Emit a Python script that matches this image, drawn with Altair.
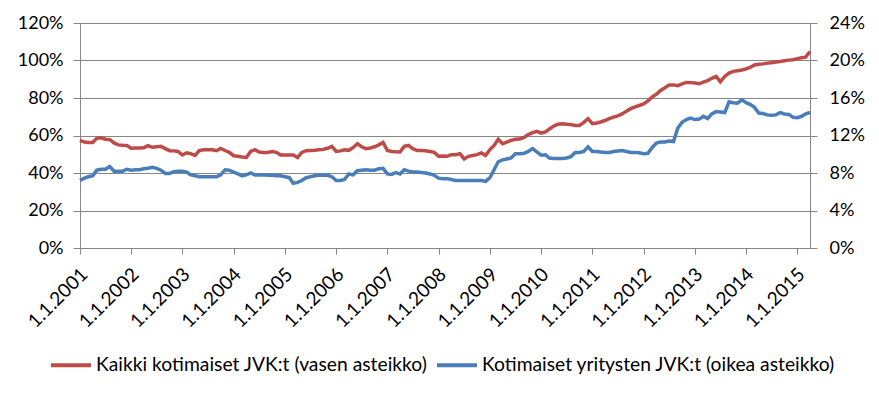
import altair as alt
import pandas as pd

# Monthly observations, 1.1.2001 – 1.4.2015
dates = pd.date_range(start="2001-01-01", periods=172, freq="MS").strftime("%Y-%m-%d").tolist()

# Kaikki kotimaiset JVK:t (vasen asteikko), %
red = [
    57.4, 56.5, 56.3, 56.3, 58.5, 58.8, 58.0, 57.8, 56.0, 55.0, 54.8, 54.7,   # 2001
    53.2, 53.3, 53.3, 53.5, 54.6, 53.7, 54.0, 54.2, 53.0, 51.9, 51.8, 51.5,   # 2002
    49.6, 50.8, 50.3, 49.4, 52.0, 52.4, 52.4, 52.4, 51.9, 53.1, 52.0, 51.0,   # 2003
    49.2, 48.9, 48.5, 48.3, 51.5, 52.4, 51.2, 51.0, 51.0, 51.5, 51.0, 49.6,   # 2004
    49.6, 49.6, 49.6, 48.3, 51.0, 51.9, 52.0, 52.1, 52.4, 52.6, 53.2, 54.2,   # 2005
    51.5, 51.8, 52.4, 52.1, 53.5, 55.6, 54.0, 53.0, 53.3, 54.0, 55.0, 56.3,   # 2006
    52.0, 51.5, 51.3, 51.2, 54.2, 54.7, 53.0, 52.0, 52.0, 51.9, 51.5, 51.0,   # 2007
    48.9, 49.0, 48.9, 49.8, 49.8, 50.3, 47.5, 48.9, 49.3, 49.8, 50.7, 49.4,   # 2008
    52.5, 54.8, 58.0, 55.6, 56.5, 57.4, 58.0, 58.1, 59.0, 60.5, 61.5, 62.2,   # 2009
    61.3, 61.9, 63.5, 65.0, 66.0, 66.3, 66.0, 65.8, 65.4, 65.4, 67.0, 69.0,   # 2010
    66.3, 66.7, 67.2, 68.0, 69.0, 69.8, 70.5, 71.5, 73.0, 74.3, 75.3, 76.0,   # 2011
    76.8, 78.5, 80.5, 82.0, 84.0, 85.5, 87.0, 87.0, 86.6, 87.5, 88.3, 88.2,   # 2012
    88.0, 87.6, 88.5, 89.3, 90.5, 91.5, 88.7, 91.5, 93.3, 94.2, 94.5, 94.9,   # 2013
    95.5, 96.4, 97.6, 98.0, 98.2, 98.6, 98.8, 99.2, 99.5, 99.9, 100.2, 100.4, # 2014
    101.0, 101.5, 101.8, 104.7,                                               # 2015
]

# Kotimaiset yritysten JVK:t (oikea asteikko), %
blue = [
    7.2, 7.45, 7.6, 7.7, 8.3, 8.4, 8.4, 8.7, 8.2, 8.2, 8.2, 8.4,              # 2001
    8.3, 8.35, 8.35, 8.45, 8.5, 8.6, 8.5, 8.3, 7.95, 7.95, 8.15, 8.2,         # 2002
    8.2, 8.1, 7.8, 7.7, 7.6, 7.6, 7.6, 7.6, 7.6, 7.8, 8.35, 8.3,              # 2003
    8.1, 7.9, 7.7, 7.8, 8.0, 7.8, 7.8, 7.8, 7.75, 7.75, 7.7, 7.7,             # 2004
    7.6, 7.5, 6.9, 7.0, 7.2, 7.5, 7.6, 7.7, 7.75, 7.75, 7.75, 7.6,            # 2005
    7.2, 7.2, 7.3, 7.9, 7.8, 8.25, 8.3, 8.35, 8.3, 8.3, 8.45, 8.5,            # 2006
    7.9, 7.85, 8.05, 7.9, 8.35, 8.2, 8.1, 8.1, 8.05, 8.0, 7.9, 7.75,          # 2007
    7.45, 7.4, 7.4, 7.3, 7.2, 7.2, 7.2, 7.2, 7.2, 7.2, 7.2, 7.1,              # 2008
    7.5, 8.4, 9.2, 9.4, 9.5, 9.6, 10.05, 10.05, 10.1, 10.3, 10.6, 10.25,      # 2009
    9.9, 9.95, 9.6, 9.55, 9.55, 9.55, 9.6, 9.75, 10.2, 10.2, 10.3, 10.8,      # 2010
    10.3, 10.3, 10.25, 10.2, 10.2, 10.3, 10.35, 10.4, 10.3, 10.2, 10.2, 10.15,  # 2011
    10.05, 10.1, 10.7, 11.2, 11.3, 11.3, 11.4, 11.35, 12.8, 13.4, 13.7, 13.85,  # 2012
    13.7, 13.75, 14.05, 13.8, 14.3, 14.55, 14.5, 14.45, 15.6, 15.5, 15.45, 15.8,  # 2013
    15.5, 15.3, 15.0, 14.4, 14.35, 14.2, 14.15, 14.2, 14.45, 14.3, 14.25, 13.95,  # 2014
    13.9, 14.05, 14.3, 14.45,                                                  # 2015
]

s_red = "Kaikki kotimaiset JVK:t  (vasen asteikko)"
s_blue = "Kotimaiset yritysten JVK:t (oikea asteikko)"
left_ticks = [0, 20, 40, 60, 80, 100, 120]
right_ticks = [0, 4, 8, 12, 16, 20, 24]
years = list(range(2001, 2016))

df = pd.DataFrame({
    "date": dates * 2,
    "series": [s_red] * len(red) + [s_blue] * len(blue),
    "value": red + blue,
})

FONT = "Lato"
GRID = "#868686"
TXT = "#000000"

xenc = alt.X(
    "date:T",
    scale=alt.Scale(type="utc",
                    domain=[alt.DateTime(year=2001, month=1, date=1, utc=True),
                            alt.DateTime(year=2015, month=4, date=1, utc=True)]),
    axis=alt.Axis(
        title=None,
        values=[alt.DateTime(year=y, month=1, date=1, utc=True) for y in years],
        format="1.1.%Y",
        labelAngle=-45, labelAlign="right", labelBaseline="middle",
        labelPadding=17, labelOffset=4, labelFontSize=19, labelFont=FONT, labelColor=TXT,
        tickSize=6, tickColor=GRID, domainColor=GRID, grid=False,
        labelOverlap=False, labelFlush=False,
    ),
)

color = alt.Color(
    "series:N",
    scale=alt.Scale(domain=[s_red, s_blue], range=["#BE4B48", "#4A7EBB"]),
    legend=alt.Legend(
        title=None, orient="none", direction="horizontal",
        legendX=-31, legendY=320,
        symbolType="stroke", symbolSize=1600, symbolStrokeWidth=4,
        labelFont=FONT, labelFontSize=19.3, labelColor=TXT, labelLimit=500,
        labelOffset=3, columnPadding=-4,
    ),
)

left = alt.Chart(df).transform_filter(alt.datum.series == s_red).mark_line(
    strokeWidth=3.5, interpolate="linear"
).encode(
    x=xenc,
    y=alt.Y("value:Q", scale=alt.Scale(domain=[0, 120], nice=False),
            axis=alt.Axis(title=None, values=left_ticks, labelExpr="datum.value + '%'",
                          orient="left", grid=True, gridColor=GRID, tickSize=7,
                          tickColor=GRID, domainColor=GRID, labelPadding=10,
                          labelFontSize=18, labelFont=FONT, labelColor=TXT)),
    color=color,
)

right = alt.Chart(df).transform_filter(alt.datum.series == s_blue).mark_line(
    strokeWidth=3.5, interpolate="linear"
).encode(
    x=xenc,
    y=alt.Y("value:Q", scale=alt.Scale(domain=[0, 24], nice=False),
            axis=alt.Axis(title=None, values=right_ticks, labelExpr="datum.value + '%'",
                          orient="right", grid=False, tickSize=7,
                          tickColor=GRID, domainColor=GRID, labelPadding=12,
                          labelFontSize=18, labelFont=FONT, labelColor=TXT)),
    color=color,
)

chart = alt.layer(left, right).resolve_scale(y="independent", color="shared").properties(
    width=730, height=225,
    autosize=alt.AutoSizeParams(type="none"),
    padding={"left": 72, "top": 15, "right": 61, "bottom": 140},
    background="white",
).configure_view(strokeWidth=0)

chart.save("out.html", embed_options={"renderer": "svg", "actions": False})
